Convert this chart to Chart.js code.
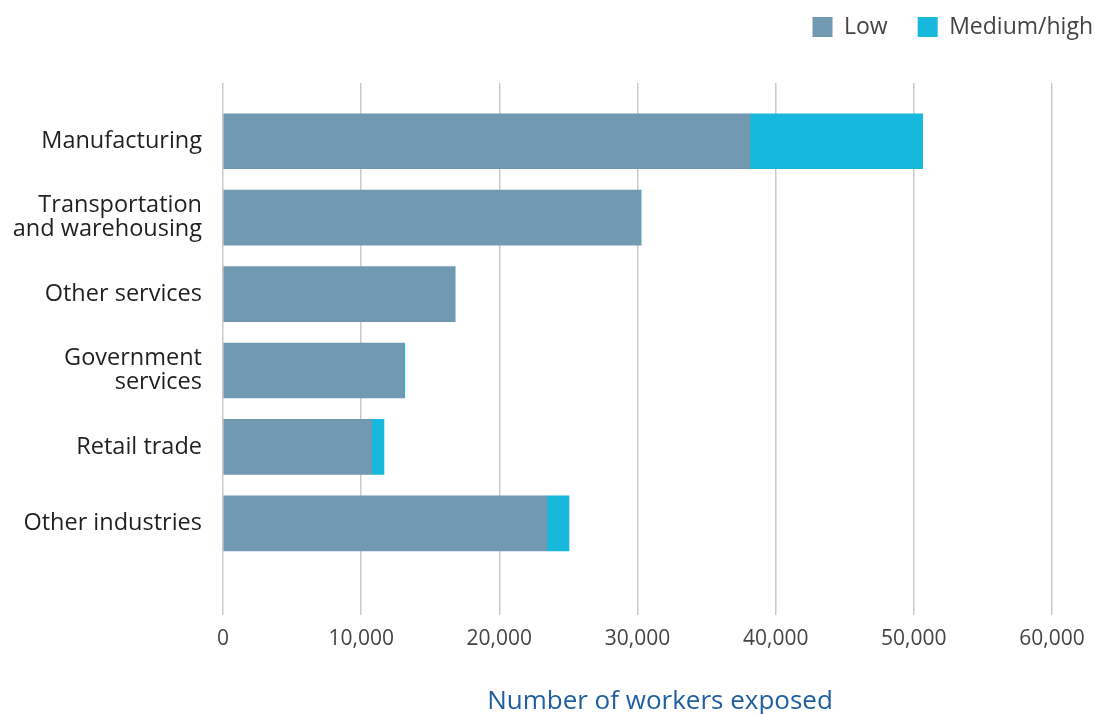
<!DOCTYPE html>
<html>
<head>
<meta charset="utf-8">
<script src="https://cdn.jsdelivr.net/npm/chart.js@4/dist/chart.umd.min.js"></script>
<style>
  html, body { margin: 0; padding: 0; background: #ffffff; }
  #wrap { width: 1095px; height: 714px; position: relative; }
</style>
</head>
<body>
<div id="wrap"><canvas id="c"></canvas></div>
<script>
const categories = [
  'Manufacturing',
  ['Transportation', 'and warehousing'],
  'Other services',
  ['Government', 'services'],
  'Retail trade',
  'Other industries'
];
const lowValues = [38140, 30250, 16790, 13080, 10760, 23450];
const mediumHighValues = [12500, 0, 0, 70, 890, 1590];
const seriesNames = ['Low', 'Medium/high'];
const xTickValues = [0, 10000, 20000, 30000, 40000, 50000, 60000];
const axisTitle = 'Number of workers exposed';

const FONT = '"Open Sans", "DejaVu Sans", sans-serif';
const GRID = '#cacaca';

const titlePlugin = {
  id: 'bottomTitle',
  afterDraw(chart) {
    const ctx = chart.ctx;
    ctx.save();
    ctx.font = '26px ' + FONT;
    ctx.fillStyle = '#1f5f9f';
    ctx.textAlign = 'center';
    ctx.textBaseline = 'alphabetic';
    ctx.fillText(axisTitle, 660, 709);
    ctx.restore();
  }
};

new Chart(document.getElementById('c'), {
  type: 'bar',
  data: {
    labels: categories,
    datasets: [
      { label: seriesNames[0], data: lowValues, backgroundColor: '#7299b2', borderWidth: 0, barThickness: 55 },
      { label: seriesNames[1], data: mediumHighValues, backgroundColor: '#16b8dc', borderWidth: 0, barThickness: 55 }
    ]
  },
  options: {
    indexAxis: 'y',
    responsive: true,
    maintainAspectRatio: false,
    animation: false,
    devicePixelRatio: 1,
    layout: { padding: { top: -14.5, right: -28, bottom: 0, left: 0 } },
    plugins: {
      legend: {
        position: 'top',
        align: 'end',
        labels: {
          boxWidth: 20,
          boxHeight: 20,
          padding: 30,
          color: '#444444',
          font: { family: FONT, size: 23 }
        }
      },
      tooltip: { enabled: false }
    },
    scales: {
      x: {
        type: 'linear',
        position: 'bottom',
        stacked: true,
        min: 0,
        max: 60000,
        afterBuildTicks(scale) { scale.ticks = xTickValues.map(v => ({ value: v })); },
        afterFit(scale) { scale.height = 152.4; scale.paddingRight = 43; scale.paddingLeft = 0; },
        grid: { display: true, drawOnChartArea: true, drawTicks: true, tickLength: 53.4, color: GRID, lineWidth: 1.5 },
        border: { display: false },
        ticks: {
          padding: 11,
          color: '#444444',
          font: { family: FONT, size: 21 },
          callback: v => v.toLocaleString('en-US')
        }
      },
      x2: {
        type: 'linear',
        position: 'top',
        min: 0,
        max: 60000,
        afterBuildTicks(scale) { scale.ticks = xTickValues.map(v => ({ value: v })); },
        afterFit(scale) { scale.height = 54.5; scale.paddingRight = 43; scale.paddingLeft = 0; },
        grid: { display: true, drawOnChartArea: false, drawTicks: true, tickLength: 20, color: GRID, lineWidth: 1.5 },
        border: { display: false },
        ticks: { display: false }
      },
      y: {
        type: 'category',
        stacked: true,
        afterFit(scale) { scale.width = 223; scale.paddingTop = 0; scale.paddingBottom = 0; },
        grid: { display: false, drawTicks: false },
        border: { display: false },
        ticks: {
          padding: 21,
          color: '#231f20',
          font: { family: FONT, size: 23.5, lineHeight: 1.03 }
        }
      }
    }
  },
  plugins: [titlePlugin]
});
</script>
</body>
</html>
